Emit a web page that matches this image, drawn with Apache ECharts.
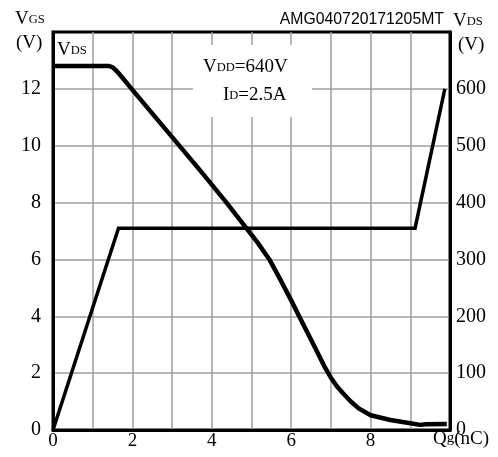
<!DOCTYPE html>
<html>
<head>
<meta charset="utf-8">
<script src="https://cdn.jsdelivr.net/npm/echarts@6/dist/echarts.min.js"></script>
<style>
  html, body { margin: 0; padding: 0; background: #fff; }
  #chart { width: 498px; height: 457px; }
</style>
</head>
<body>
<div id="chart"></div>
<script>
// gate charge curves
const qVgs = [0, 1.65, 9.12, 9.87]
const vgs = [0, 7.1, 7.1, 12]

const qVds = [0, 1.42, 1.5, 1.58, 1.66, 1.98, 3.7, 4.37, 4.87, 5.15, 5.45, 5.7, 6.0, 6.2, 6.6, 6.85, 7.0, 7.15, 7.3, 7.5, 7.7, 8.0, 8.5, 9.0, 9.25, 9.4, 9.92]
const vds = [640, 640, 638, 633, 627, 600, 457, 400, 355, 330, 300, 268, 228, 200, 145, 110, 92, 77, 65, 50, 38, 26, 17.5, 12, 9, 10, 10.5]

const xTicks = [0, 2, 4, 6, 8]
const serif = '"Liberation Serif", "Times New Roman", serif'

const pairs = (xs, ys) => xs.map((x, i) => [x, ys[i]])

const chart = echarts.init(document.getElementById('chart'))

const sub = { fontFamily: serif, fontSize: 12.5, color: '#000', verticalAlign: 'bottom', padding: [0, 0, 3, 0] }
const big = { fontFamily: serif, fontSize: 19, color: '#000', verticalAlign: 'bottom' }

const gridLine = { lineStyle: { color: '#9e9e9e', width: 1.5 }, showMinLine: false, showMaxLine: false }
const frame = { show: true, lineStyle: { color: '#000', width: 3 } }
const tickFont = { fontFamily: serif, fontSize: 20, color: '#000' }

chart.setOption({
  animation: false,
  title: {
    text: 'AMG040720171205MT',
    right: 49,
    top: 7,
    textStyle: { fontFamily: '"Liberation Sans", Arial, sans-serif', fontSize: 15.8, fontWeight: 'normal', color: '#000' }
  },
  grid: {
    left: 53, top: 32, right: 48, bottom: 27,
    show: true, borderColor: '#000', borderWidth: 3
  },
  xAxis: {
    type: 'value', min: 0, max: 10, interval: 1,
    axisLine: frame,
    axisTick: { show: false },
    splitLine: gridLine,
    axisLabel: Object.assign({ margin: 2, formatter: v => xTicks.includes(v) ? String(v) : '' }, tickFont, { fontSize: 19 })
  },
  yAxis: [{
    type: 'value', min: 0, max: 14, interval: 2,
    axisLine: frame,
    axisTick: { show: false },
    splitLine: gridLine,
    axisLabel: Object.assign({ margin: 12, formatter: v => v < 14 ? String(v) : '' }, tickFont)
  }, {
    type: 'value', min: 0, max: 700, interval: 100, position: 'right',
    axisLine: frame,
    axisTick: { show: false },
    splitLine: { show: false },
    axisLabel: Object.assign({ margin: 6, formatter: v => v < 700 ? String(v) : '' }, tickFont)
  }],
  series: [{
    name: 'VGS', type: 'line', yAxisIndex: 0, showSymbol: false,
    lineStyle: { color: '#000', width: 3.5, join: 'miter' },
    data: pairs(qVgs, vgs)
  }, {
    name: 'VDS', type: 'line', yAxisIndex: 1, showSymbol: false,
    lineStyle: { color: '#000', width: 4.5, join: 'round' },
    data: pairs(qVds, vds)
  }],
  graphic: [
    { type: 'rect', z: 5, shape: { x: 193, y: 45, width: 119, height: 72 }, style: { fill: '#fff' } },
    { type: 'text', z: 6, x: 203, y: 58, style: { text: '{b|V}{s|DD}{b|=640V}', rich: { b: big, s: sub } } },
    { type: 'text', z: 6, x: 223, y: 86, style: { text: '{b|I}{s|D}{b|=2.5A}', rich: { b: big, s: sub } } },
    // axis titles
    { type: 'text', x: 15, y: 10, style: { text: '{b|V}{s|GS}', rich: { b: big, s: sub } } },
    { type: 'text', x: 16, y: 34, style: { text: '{b|(V)}', rich: { b: big } } },
    { type: 'text', z: 6, x: 57, y: 41, style: { text: '{b|V}{s|DS}', rich: { b: big, s: sub } } },
    { type: 'text', x: 453, y: 12, style: { text: '{b|V}{s|DS}', rich: { b: big, s: sub } } },
    { type: 'text', x: 458, y: 36, style: { text: '{b|(V)}', rich: { b: big } } },
    { type: 'text', x: 433, y: 430, style: { text: '{b|Q}{s|g}{b|(nC)}', rich: { b: big, s: Object.assign({}, sub, { fontSize: 15 }) } } }
  ]
})
</script>
</body>
</html>
